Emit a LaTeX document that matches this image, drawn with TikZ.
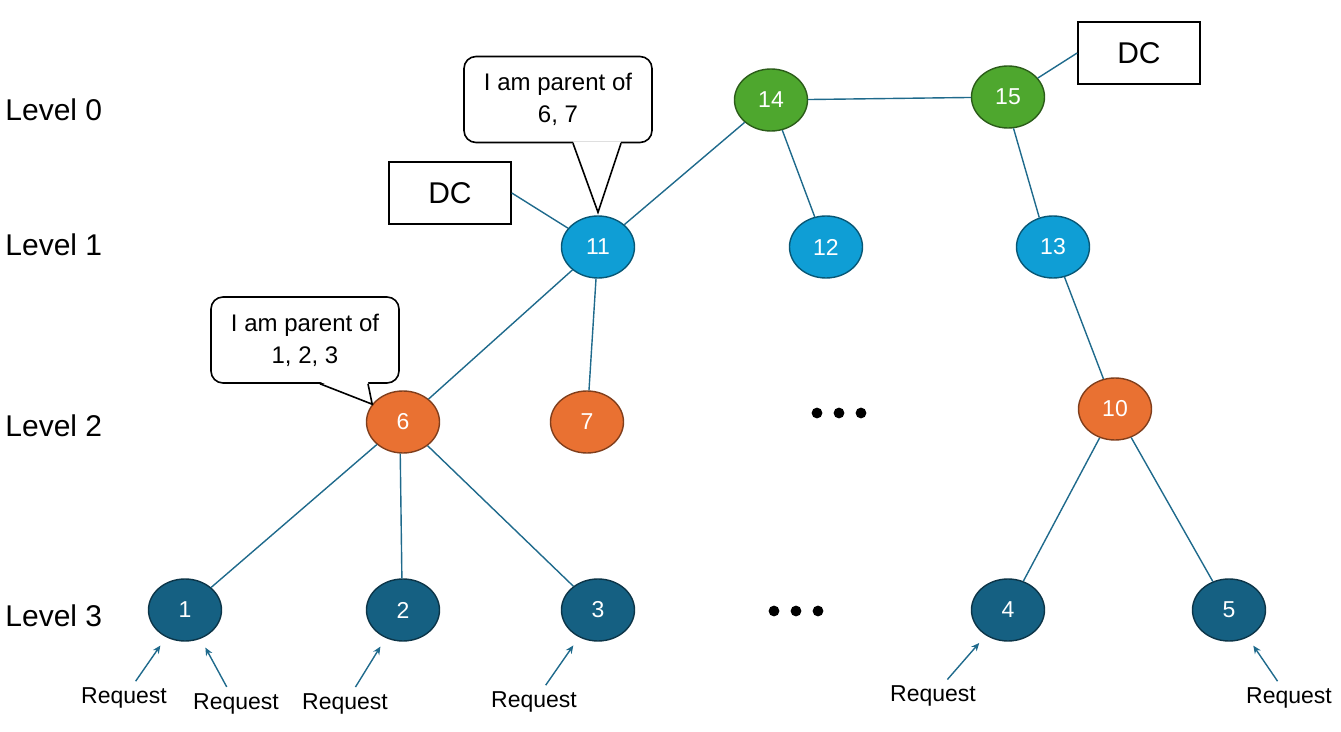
\documentclass[tikz,border=0pt]{standalone}
\usepackage{fontspec}
\setmainfont{Liberation Sans}
\usepackage{xcolor}
\usetikzlibrary{arrows.meta,positioning,calc,shapes.geometric}
\definecolor{lvlgreen}{HTML}{4EA72E}
\definecolor{lvlblue}{HTML}{0F9ED5}
\definecolor{lvlorange}{HTML}{E97132}
\definecolor{lvlteal}{HTML}{156082}
\definecolor{linkcol}{HTML}{1F6A8C}

\begin{document}
\begin{tikzpicture}[
  x=0.5pt,y=-0.5pt,
  >={Stealth[length=4pt,width=3.5pt]},
  vert/.style={ellipse,draw=#1!55!black,fill=#1,line width=0.7pt,minimum width=36.5pt,minimum height=31pt,inner sep=0pt,text=white,font=\fontsize{11.5}{13}\selectfont},
  link/.style={draw=linkcol,line width=0.7pt},
  dcbox/.style={draw,line width=0.8pt,minimum width=61pt,minimum height=31pt,font=\fontsize{15}{18}\selectfont},
  note/.style={draw,line width=0.8pt,rounded corners=6pt,fill=white,minimum width=94pt,minimum height=43pt,align=center,font=\fontsize{12}{16}\selectfont},
  lvl/.style={anchor=west,inner sep=0pt,font=\fontsize{15}{18}\selectfont},
  req/.style={inner sep=1pt,font=\fontsize{11.5}{14}\selectfont},
  reqarrow/.style={->,draw=linkcol,line width=0.7pt,shorten <=2.5pt,shorten >=5pt},
]
\useasboundingbox (0,0) rectangle (1341,732);

\node[lvl] (lvl0) at (5,110) {Level 0};
\node[lvl] (lvl1) at (5,245) {Level 1};
\node[lvl] (lvl2) at (5,426) {Level 2};
\node[lvl] (lvl3) at (5,616) {Level 3};

\node[vert=lvlgreen] (n14) at (771,100) {14};
\node[vert=lvlgreen] (n15) at (1008,97) {15};
\node[vert=lvlblue] (n11) at (598,247) {11};
\node[vert=lvlblue] (n12) at (826,247) {12};
\node[vert=lvlblue] (n13) at (1053,247) {13};
\node[vert=lvlorange] (n6) at (403,422) {6};
\node[vert=lvlorange] (n7) at (587,422) {7};
\node[vert=lvlorange] (n10) at (1115,409) {10};
\node[vert=lvlteal] (n1) at (185,610) {1};
\node[vert=lvlteal] (n2) at (403,610) {2};
\node[vert=lvlteal] (n3) at (598,610) {3};
\node[vert=lvlteal] (n4) at (1008,610) {4};
\node[vert=lvlteal] (n5) at (1229,610) {5};

\node[dcbox] (dc1) at (450,193) {DC};
\node[dcbox] (dc2) at (1139,53) {DC};

\draw[link] (n14) -- (n15);
\draw[link] (n14) -- (n11);
\draw[link] (n14) -- (n12);
\draw[link] (n15.-80) -- (n13.115);
\draw[link] (dc1.east) -- (n11);
\draw[link] (dc2.west) -- (n15);
\draw[link] (n11) -- (n6);
\draw[link] (n11) -- (n7);
\draw[link] (n13) -- (n10);
\draw[link] (n6) -- (n1);
\draw[link] (n6.-95) -- (n2.92);
\draw[link] (n6) -- (n3);
\draw[link] (n10) -- (n4);
\draw[link] (n10) -- (n5);

\node[note] (note11) at (558,99.5) {I am parent of\\6, 7};
\fill[white] ($(note11.south)+(15,-2)$) -- ($(n11.north)+(0,-3)$) -- ($(note11.south)+(63,-2)$) -- cycle;
\draw[line width=0.8pt] ($(note11.south)+(15,0)$) -- ($(n11.north)+(0,-3)$) -- ($(note11.south)+(63,0)$);

\node[note] (note6) at (305,340) {I am parent of\\1, 2, 3};
\fill[white] ($(note6.south)+(15,-2)$) -- (n6.150) -- ($(note6.south)+(63,-2)$) -- cycle;
\draw[line width=0.8pt] ($(note6.south)+(15,0)$) -- (n6.150) -- ($(note6.south)+(63,0)$);

\coordinate (dotsA) at (839,413);
\coordinate (dotsB) at (796,611);
\foreach \dx in {-22,0,22} {
  \fill ($(dotsA)+(\dx,0)$) circle (2.7pt);
  \fill ($(dotsB)+(\dx,0)$) circle (2.7pt);
}

\node[req] (req1) at (124,698) {Request};
\node[req] (req2) at (236,704) {Request};
\node[req] (req3) at (345,704) {Request};
\node[req] (req4) at (534,702) {Request};
\node[req] (req5) at (933,696) {Request};
\node[req] (req6) at (1289,698) {Request};
\draw[reqarrow] (req1) -- (n1);
\draw[reqarrow] (req2) -- (n1);
\draw[reqarrow] (req3) -- (n2);
\draw[reqarrow] (req4) -- (n3);
\draw[reqarrow] (req5) -- (n4);
\draw[reqarrow] (req6) -- (n5);
\end{tikzpicture}
\end{document}
